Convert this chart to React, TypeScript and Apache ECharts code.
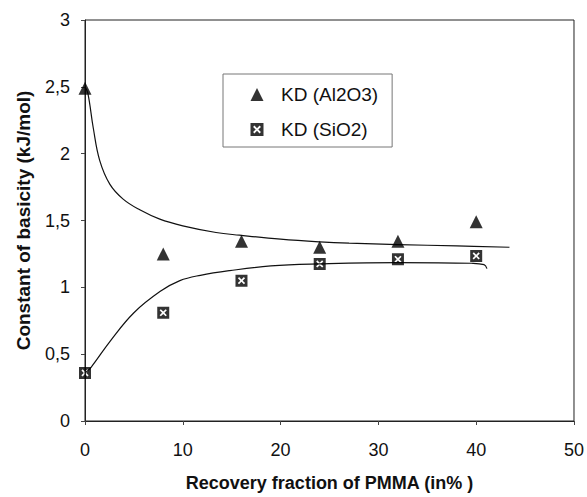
import React, { useEffect, useRef } from "react";
import * as echarts from "echarts";

// Measured points
const xAl2O3 = [0, 8, 16, 24, 32, 40];
const yAl2O3 = [2.49, 1.25, 1.345, 1.3, 1.345, 1.49];
const xSiO2 = [0, 8, 16, 24, 32, 40];
const ySiO2 = [0.36, 0.81, 1.05, 1.175, 1.21, 1.235];

// Fitted curves
const fitAlX = [0, 0.3, 0.85, 1.5, 2.55, 3.9, 5.6, 7.65, 10, 13.4, 15.8, 20, 24, 27, 32, 38, 43.4];
const fitAlY = [2.5, 2.45, 2.19, 1.95, 1.77, 1.66, 1.58, 1.51, 1.46, 1.41, 1.39, 1.36, 1.34, 1.33, 1.32, 1.31, 1.3];
const fitSiX = [0, 0.6, 2.6, 5, 7.7, 9.7, 11.8, 14.8, 19, 24, 32, 39.5, 40.8, 41.1];
const fitSiY = [0.36, 0.4, 0.6, 0.81, 0.97, 1.05, 1.09, 1.125, 1.16, 1.175, 1.185, 1.18, 1.17, 1.14];

const xTicks = [0, 10, 20, 30, 40, 50];
const yTicks = [0, 0.5, 1, 1.5, 2, 2.5, 3];

const nameAl = "KD (Al2O3)";
const nameSi = "KD (SiO2)";
const xTitle = "Recovery fraction of PMMA (in% )";
const yTitle = "Constant of basicity (kJ/mol)";

// black square with a white X (four black pieces around the X)
const squareX =
  "path://M0,0L10,0L7.5,2.5L7,2L5,4L3,2L2.5,2.5Z" +
  "M10,0L10,10L7.5,7.5L8,7L6,5L8,3L7.5,2.5Z" +
  "M10,10L0,10L2.5,7.5L3,8L5,6L7,8L7.5,7.5Z" +
  "M0,10L0,0L2.5,2.5L2,3L4,5L2,7L2.5,7.5Z";

const zip = (xs: number[], ys: number[]) => xs.map((x, i) => [x, ys[i]]);

const FONT = "'Liberation Sans', Arial, sans-serif";

export default function App() {
  const ref = useRef<HTMLDivElement>(null);
  useEffect(() => {
    if (!ref.current) return;
    const chart = echarts.init(ref.current, null, { renderer: "svg" });
    chart.setOption({
      animation: false,
      backgroundColor: "#fff",
      textStyle: { fontFamily: FONT },
      grid: {
        left: 85,
        right: 12,
        top: 20,
        bottom: 69,
        show: true,
        borderColor: "#222",
        borderWidth: 1,
      },
      legend: {
        data: [
          { name: nameAl, icon: "triangle" },
          { name: nameSi, icon: squareX },
        ],
        orient: "vertical",
        left: 223,
        top: 74,
        itemWidth: 13,
        itemHeight: 13,
        itemGap: 16,
        padding: [11, 14, 8, 27.5],
        borderColor: "#777",
        borderWidth: 1,
        textStyle: {
          fontSize: 19,
          lineHeight: 19,
          color: "#111",
          fontFamily: FONT,
          padding: [0, 0, 0, 12.5],
        },
      },
      xAxis: {
        type: "value",
        min: xTicks[0],
        max: xTicks[xTicks.length - 1],
        interval: 10,
        name: xTitle,
        nameLocation: "middle",
        nameGap: 53,
        nameTextStyle: { fontSize: 18, fontWeight: "bold", color: "#111", fontFamily: FONT },
        axisLine: { lineStyle: { color: "#222", width: 1 } },
        axisTick: { show: true, length: 4, inside: false, lineStyle: { color: "#444" } },
        axisLabel: { fontSize: 18, color: "#111", margin: 20, fontFamily: FONT },
        splitLine: { show: false },
      },
      yAxis: {
        type: "value",
        min: yTicks[0],
        max: yTicks[yTicks.length - 1],
        interval: 0.5,
        name: yTitle,
        nameLocation: "middle",
        nameGap: 52,
        nameTextStyle: { fontSize: 19, fontWeight: "bold", color: "#111", fontFamily: FONT },
        axisLine: { show: true, lineStyle: { color: "#222", width: 1 } },
        axisTick: { show: true, length: 4, inside: false, lineStyle: { color: "#444" } },
        axisLabel: {
          fontSize: 18,
          color: "#111",
          margin: 15,
          fontFamily: FONT,
          formatter: (v: number) => String(v).replace(".", ","),
        },
        splitLine: { show: false },
      },
      series: [
        {
          name: "fitAl",
          type: "line",
          data: zip(fitAlX, fitAlY),
          smooth: 0.4,
          showSymbol: false,
          symbol: "none",
          lineStyle: { color: "#111", width: 1.2 },
          z: 1,
        },
        {
          name: "fitSi",
          type: "line",
          data: zip(fitSiX, fitSiY),
          smooth: 0.4,
          showSymbol: false,
          symbol: "none",
          lineStyle: { color: "#111", width: 1.2 },
          z: 1,
        },
        {
          name: nameAl,
          type: "scatter",
          data: zip(xAl2O3, yAl2O3),
          symbol: "triangle",
          symbolSize: 13,
          itemStyle: { color: "#000" },
          z: 3,
        },
        {
          name: nameSi,
          type: "scatter",
          data: zip(xSiO2, ySiO2),
          symbol: squareX,
          symbolSize: 12,
          itemStyle: { color: "#000" },
          z: 3,
        },
      ],
    });
    return () => chart.dispose();
  }, []);
  return <div ref={ref} style={{ width: 587, height: 497, position: "absolute", left: 0, top: 0 }} />;
}
